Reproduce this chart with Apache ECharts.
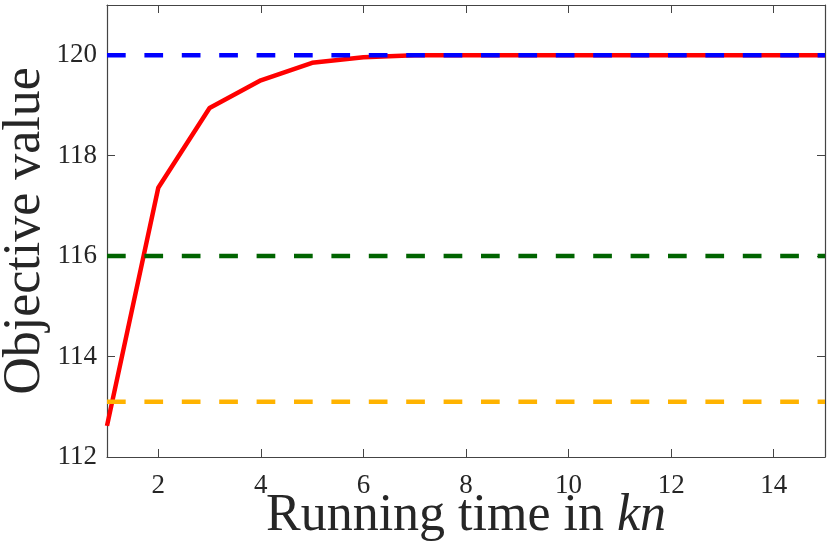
<!DOCTYPE html>
<html>
<head>
<meta charset="utf-8">
<script src="https://cdn.jsdelivr.net/npm/echarts@6/dist/echarts.min.js"></script>
<style>
  html, body { margin: 0; padding: 0; background: #fff; }
  #chart { width: 830px; height: 548px; }
</style>
</head>
<body>
<div id="chart"></div>
<script>
// running time (kn) and objective value of the algorithm
const runTimes = [1, 2, 3, 4, 5, 6, 7, 8, 9, 10, 11, 12, 13, 14, 15];
const objective = [112.62, 117.36, 118.95, 119.5, 119.85, 119.96, 120, 120, 120, 120, 120, 120, 120, 120, 120];
// horizontal reference levels
const optimumLevel = 120;
const greenLevel = 116;
const orangeLevel = 113.1;
const xTicks = [2, 4, 6, 8, 10, 12, 14];
const yTicks = [112, 114, 116, 118, 120];

function initChart() {
    const chartDom = document.getElementById('chart');
    const myChart = echarts.init(chartDom);
    const font = 'Liberation Serif';
    const axisColor = '#444';
    const dash = [18.7, 18.7];
    const flat = (v) => [[runTimes[0], v], [runTimes[runTimes.length - 1], v]];

    const boxAxis = (extra) => Object.assign({
        type: 'value', min: 1, max: 15,
        axisLine: { show: true, onZero: false, lineStyle: { color: axisColor, width: 1.2 } },
        axisTick: { show: true, inside: true, length: 8, lineStyle: { color: axisColor } },
        splitLine: { show: false }
    }, extra);

    myChart.setOption({
        animation: false,
        grid: { left: 107, right: 5, top: 5, bottom: 91, containLabel: false, outerBoundsMode: 'none' },
        xAxis: [
            boxAxis({
                position: 'bottom',
                axisTick: { show: true, inside: true, length: 8, customValues: xTicks, lineStyle: { color: axisColor } },
                axisLabel: { customValues: xTicks, fontFamily: font, fontSize: 27, color: '#262626', margin: 15 },
                name: 'Running time in {i|kn}',
                nameLocation: 'middle', nameGap: 33, nameMoveOverlap: false,
                nameTextStyle: {
                    fontFamily: font, fontSize: 52, color: '#262626',
                    rich: { i: { fontFamily: font, fontSize: 52, fontStyle: 'italic', color: '#262626' } }
                }
            }),
            boxAxis({
                position: 'top',
                axisTick: { show: true, inside: true, length: 8, customValues: xTicks, lineStyle: { color: axisColor } },
                axisLabel: { show: false }
            })
        ],
        yAxis: [
            boxAxis({
                min: 112, max: 121, position: 'left',
                axisTick: { show: true, inside: true, length: 8, customValues: yTicks, lineStyle: { color: axisColor } },
                axisLabel: { customValues: yTicks, fontFamily: font, fontSize: 27, color: '#262626', margin: 10 },
                name: 'Objective value',
                nameLocation: 'middle', nameGap: 56, nameRotate: 90, nameMoveOverlap: false,
                nameTextStyle: { fontFamily: font, fontSize: 52, color: '#262626' }
            }),
            boxAxis({
                min: 112, max: 121, position: 'right',
                axisTick: { show: true, inside: true, length: 8, customValues: yTicks, lineStyle: { color: axisColor } },
                axisLabel: { show: false }
            })
        ],
        series: [
            {
                type: 'line', data: runTimes.map((t, i) => [t, objective[i]]),
                symbol: 'none', lineStyle: { color: '#ff0000', width: 4.5 }, z: 2
            },
            {
                type: 'line', data: flat(optimumLevel), symbol: 'none',
                lineStyle: { color: '#0000ff', width: 4.5, type: dash }, z: 3
            },
            {
                type: 'line', data: flat(greenLevel), symbol: 'none',
                lineStyle: { color: '#006400', width: 4.5, type: dash }, z: 3
            },
            {
                type: 'line', data: flat(orangeLevel), symbol: 'none',
                lineStyle: { color: '#ffb300', width: 4.5, type: dash }, z: 3
            }
        ]
    });
}

document.addEventListener('DOMContentLoaded', initChart);
</script>
</body>
</html>
